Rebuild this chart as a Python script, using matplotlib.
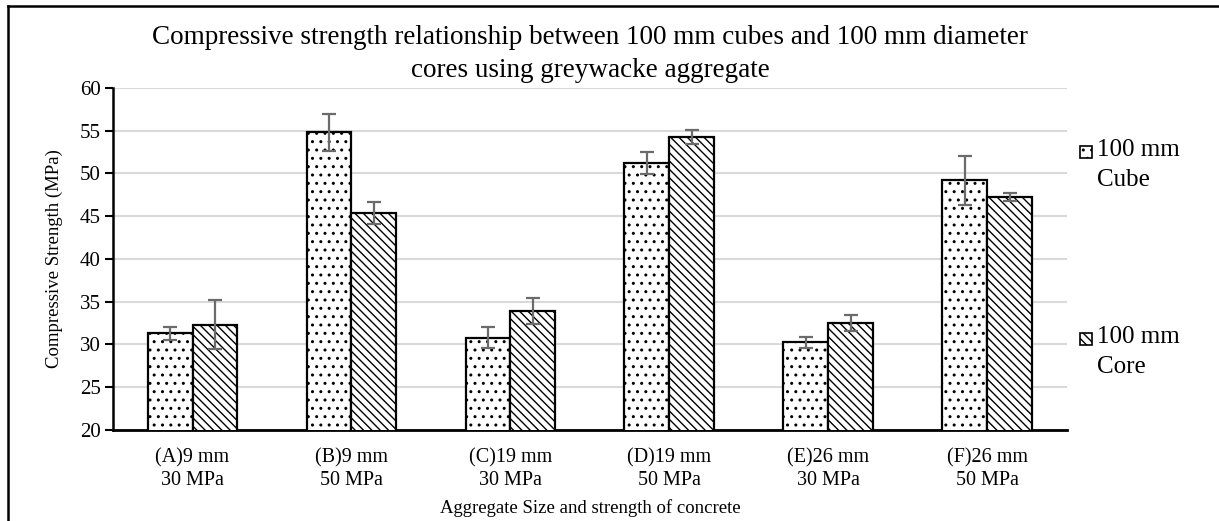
import numpy as np
import matplotlib.pyplot as plt
from matplotlib.patches import Rectangle

plt.rcParams['font.family'] = ['Liberation Serif', 'DejaVu Serif']
plt.rcParams['hatch.linewidth'] = 1.0

categories = ['(A)9 mm\n30 MPa', '(B)9 mm\n50 MPa', '(C)19 mm\n30 MPa',
              '(D)19 mm\n50 MPa', '(E)26 mm\n30 MPa', '(F)26 mm\n50 MPa']
cube = [31.3, 54.8, 30.8, 51.2, 30.25, 49.2]
cube_err = [0.75, 2.15, 1.2, 1.3, 0.65, 2.9]
core = [32.3, 45.4, 33.95, 54.3, 32.55, 47.25]
core_err = [2.85, 1.3, 1.5, 0.8, 0.95, 0.45]
series_names = ['100 mm\nCube', '100 mm\nCore']
hatches = ['..', '\\\\\\\\']

fig = plt.figure(figsize=(12.19, 5.21), dpi=100)
ax = fig.add_axes([0.0927, 0.1747, 0.7826, 0.6564])

x = np.arange(len(categories))
w = 0.283
ekw = dict(ecolor='#6b6b6b', elinewidth=1.6, capsize=5, capthick=1.6)
ax.bar(x - w/2, cube, w, color='white', edgecolor='black', linewidth=1.6,
       hatch=hatches[0], yerr=cube_err, error_kw=ekw, zorder=3)
ax.bar(x + w/2, core, w, color='white', edgecolor='black', linewidth=1.6,
       hatch=hatches[1], yerr=core_err, error_kw=ekw, zorder=3)

ax.set_ylim(20, 60)
ax.set_xlim(-0.5, len(categories) - 0.5)
ax.set_yticks(range(20, 61, 5))
ax.set_xticks(x)
ax.set_xticklabels(categories, fontsize=14.5, linespacing=1.3)
ax.tick_params(axis='y', labelsize=15, length=6, width=1.5, pad=3)
ax.tick_params(axis='x', length=0, pad=13)
ax.grid(axis='y', color='#d9d9d9', linewidth=1.5, zorder=0)
ax.set_axisbelow(True)
for s in ['top', 'right']:
    ax.spines[s].set_visible(False)
ax.spines['left'].set_linewidth(1.8)
ax.spines['bottom'].set_linewidth(2.0)

ax.set_ylabel('Compressive Strength (MPa)', fontsize=13.5, labelpad=12)
ax.set_xlabel('Aggregate Size and strength of concrete', fontsize=13.5, labelpad=6)
ax.set_title('Compressive strength relationship between 100 mm cubes and 100 mm diameter\n'
             'cores using greywacke aggregate', fontsize=19.5, linespacing=1.4, pad=8)

# legend drawn at the right of the plot area
for name, hatch, ytop in zip(series_names, hatches, [152, 339]):
    fig.add_artist(Rectangle((1080/1219, 1 - (ytop + 6)/521), 12/1219, 12/521,
                             transform=fig.transFigure, facecolor='white',
                             edgecolor='black', hatch=hatch, linewidth=1.2))
    fig.text(1097/1219, 1 - (ytop - 13)/521, name, fontsize=18, va='top', ha='left',
             linespacing=1.45)

# outer frame (left and top edges visible)
fig.add_artist(plt.Line2D([8/1219, 8/1219], [0, 1 - 6/521], color='black', lw=1.8))
fig.add_artist(plt.Line2D([8/1219, 1], [1 - 6/521, 1 - 6/521], color='black', lw=1.8))

fig.savefig('out.png', dpi=100)
